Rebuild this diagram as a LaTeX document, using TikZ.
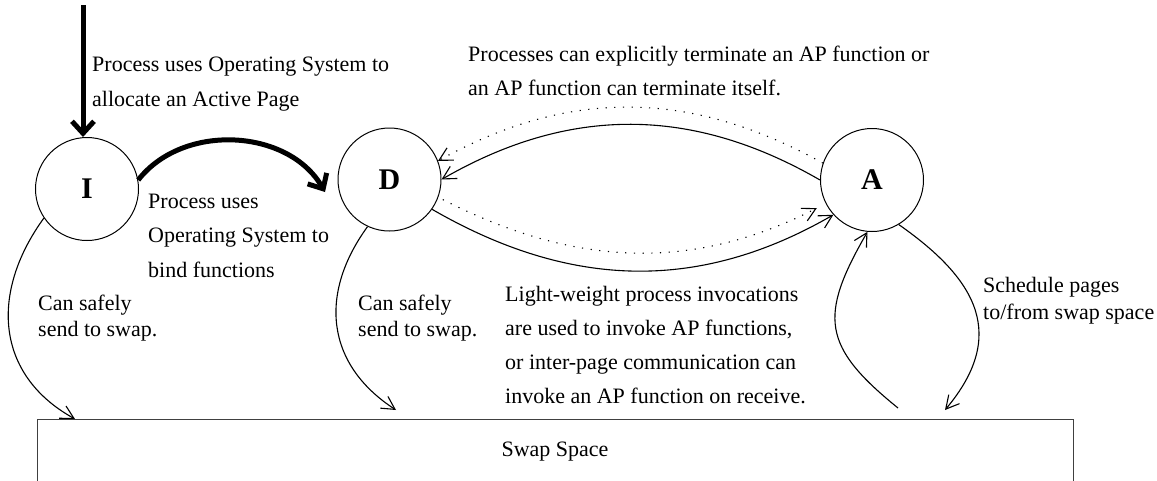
\documentclass[tikz,border=0pt]{standalone}
\usepackage{fontspec}
\setmainfont{Liberation Serif}
\usetikzlibrary{arrows.meta}
\newcommand{\mlines}[1]{\begin{tabular}[t]{@{}l@{}}#1\end{tabular}}
\begin{document}
\begin{tikzpicture}[x=1pt,y=1pt,
  state/.style={circle,draw,line width=1pt,minimum size=103pt,inner sep=0pt,
    font=\fontsize{30}{36}\selectfont\bfseries},
  lbl/.style={inner sep=0pt,anchor=base west},
  thinarrow/.style={line width=1.1pt,-{Straight Barb[length=13pt,width=14pt]}},
  thickarrow/.style={line width=5pt,-{Straight Barb[length=12pt,width=22pt]}},
  dotline/.style={dash pattern=on 1.2pt off 7.5pt}]
\useasboundingbox (0,0) rectangle (1157,-480);

% states
\node[state] (I) at (87,-189) {I};
\node[state] (D) at (389.5,-179.5) {D};
\node[state] (A) at (872,-180) {A};

% swap space box (its bottom lies below the picture's edge)
\node[draw=black!75,line width=0.9pt,minimum width=1036pt,minimum height=64pt,
  anchor=north,inner sep=0pt,text height=15pt,text depth=5pt,
  font=\fontsize{22}{26}\selectfont] (swap) at (555,-419) {Swap Space};

% free ends
\coordinate (top) at (83,-5);
\coordinate (tID) at (325,-192);
\coordinate (sI) at (75,-419);
\coordinate (sD) at (396,-410);
\coordinate (sAin) at (898,-408);
\coordinate (sAout) at (945,-410);

% connectors
\draw[thickarrow] (top) -- (top |- I.north);
\draw[thickarrow] (I.10) to[out=52,in=120] (tID);
\draw[thinarrow] (A.180) to[out=150,in=30] (D.0);
\draw[thinarrow,dotline] (A.161) to[out=151,in=29] (D.21);
\draw[thinarrow] (D.-35) to[out=-30,in=-150] (A.222);
\draw[thinarrow,dotline,shorten <=5pt,shorten >=10pt] (D.-20) to[out=-27,in=-153] (A.207);
\draw[thinarrow] (I.214) to[out=234,in=151,looseness=1.15] (sI);
\draw[thinarrow] (D.245) to[out=234,in=147,looseness=1.15] (sD);
\draw[thinarrow] (A.-59) to[out=-35,in=50,looseness=1.3] (sAout);
\draw[thinarrow] (sAin) to[out=141,in=240,looseness=1.4] (A.265);

% labels
\node[lbl,font=\fontsize{22}{35}\selectfont] (l1) at (92,-71)
  {\mlines{Process uses Operating System to\\allocate an Active Page}};
\node[lbl,font=\fontsize{22}{34.5}\selectfont] (l2) at (148,-208)
  {\mlines{Process uses\\Operating System to\\bind functions}};
\node[lbl,font=\fontsize{22}{34}\selectfont] (l3) at (468,-61)
  {\mlines{Processes can explicitly terminate an AP function or\\an AP function can terminate itself.}};
\node[lbl,font=\fontsize{22}{34}\selectfont] (l4) at (505,-301)
  {\mlines{Light-weight process invocations\\are used to invoke AP functions,\\or inter-page communication can\\invoke an AP function on receive.}};
\node[lbl,font=\fontsize{22}{26}\selectfont] (l5) at (38,-310)
  {\mlines{Can safely\\send to swap.}};
\node[lbl,font=\fontsize{22}{26}\selectfont] (l6) at (358,-310)
  {\mlines{Can safely\\send to swap.}};
\node[lbl,font=\fontsize{22}{27}\selectfont] (l7) at (983,-292)
  {\mlines{Schedule pages\\to/from swap space}};
\end{tikzpicture}
\end{document}
